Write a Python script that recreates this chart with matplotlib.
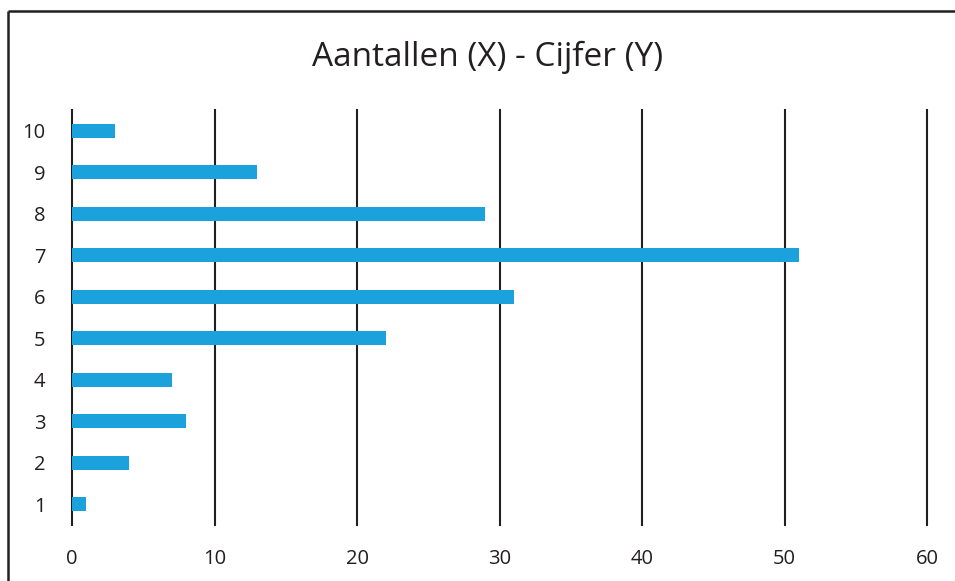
import matplotlib
matplotlib.use("Agg")
import matplotlib.pyplot as plt
from matplotlib.lines import Line2D

categories = [1, 2, 3, 4, 5, 6, 7, 8, 9, 10]
values = [1, 4, 8, 7, 22, 31, 51, 29, 13, 3]
xticks = [0, 10, 20, 30, 40, 50, 60]
title = "Aantallen (X) - Cijfer (Y)"

plt.rcParams['font.family'] = ['Open Sans', 'DejaVu Sans']

fig = plt.figure(figsize=(9.5501, 5.8101), dpi=100)
ax = fig.add_axes([72/955, 1 - 525/581, (927-72)/955, (525-110)/581])

ax.barh(categories, values, height=0.34, color='#1BA1DC', zorder=3)
ax.set_xlim(0, 60)
ax.set_ylim(0.5, 10.5)
ax.set_xticks(xticks)
ax.set_yticks(categories)
ax.set_yticklabels([str(c) for c in categories])
ax.xaxis.grid(True, color='#231f20', linewidth=1.5, zorder=1)
ax.yaxis.grid(False)
for gl in ax.get_xgridlines():
    gl.set_clip_on(False)
for s in ax.spines.values():
    s.set_visible(False)
ax.tick_params(axis='both', length=0, labelsize=14.5, colors='#231f20')
ax.tick_params(axis='y', pad=19)
ax.tick_params(axis='x', pad=17)

fig.text(488/955, 1 - 57/581, title, ha='center', va='center', fontsize=24, color='#231f20')

top = 1 - 11/581
fig.lines.append(Line2D([8/955, 8/955], [0.0, top], transform=fig.transFigure,
                        color='#231f20', linewidth=1.8, solid_capstyle='butt'))
fig.lines.append(Line2D([8/955, 1.003], [top, top], transform=fig.transFigure,
                        color='#231f20', linewidth=1.8, solid_capstyle='butt'))

fig.savefig("out.png", dpi=100)
